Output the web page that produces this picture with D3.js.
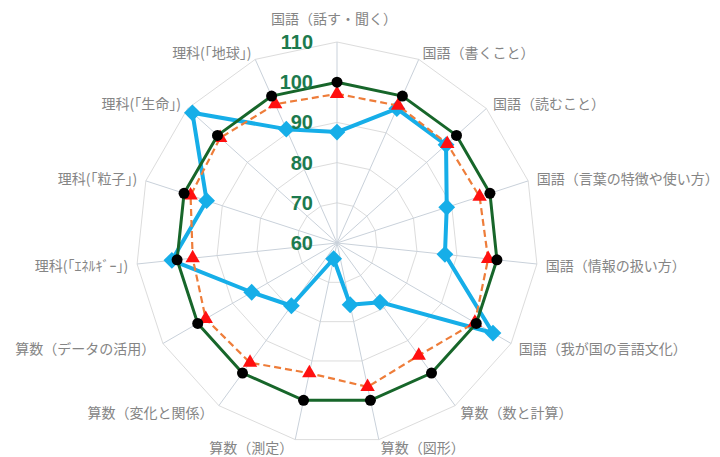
<!DOCTYPE html>
<html>
<head>
<meta charset="utf-8">
<script src="https://cdn.jsdelivr.net/npm/d3@7"></script>
<style>
  html, body { margin: 0; padding: 0; background: #ffffff; }
  svg { display: block; }
</style>
</head>
<body>
<svg id="chart" width="720" height="457"></svg>
<script>
// Subject areas, clockwise from the top
const categories = [
  "国語（話す・聞く）",
  "国語（書くこと）",
  "国語（読むこと）",
  "国語（言葉の特徴や使い方）",
  "国語（情報の扱い方）",
  "国語（我が国の言語文化）",
  "算数（数と計算）",
  "算数（図形）",
  "算数（測定）",
  "算数（変化と関係）",
  "算数（データの活用）",
  "理科(「ｴﾈﾙｷﾞｰ」)",
  "理科(「粒子」)",
  "理科(「生命」)",
  "理科(「地球」)"
];

// Reference line (national = 100)
const nationalValues = [100, 100, 100, 100, 100, 100, 100, 100, 100, 100, 100, 100, 100, 100, 100];
// Prefecture scores (dashed orange, red triangles)
const prefectureValues = [97.1, 97.4, 96.9, 97.3, 97.8, 99.6, 94.6, 96.6, 93.1, 96.8, 97.7, 96.1, 98.3, 99.1, 97.8];
// School scores (light blue, diamonds)
const schoolValues = [87.6, 96.6, 96.5, 88.7, 87.0, 104.8, 78.2, 75.7, 64.0, 79.3, 84.5, 101.3, 94.1, 108.4, 91.0];

const tickValues = [60, 70, 80, 90, 100, 110];

const cx = 337, cy = 243, R = 201;
const svg = d3.select("#chart");

const r = d3.scaleLinear().domain([60, 110]).range([0, R]);
const angle = d3.scaleLinear().domain([0, categories.length]).range([0, 2 * Math.PI]);

const g = svg.append("g").attr("transform", `translate(${cx},${cy})`);

const pt = (i, v) => [Math.sin(angle(i)) * r(v), -Math.cos(angle(i)) * r(v)];

// Grid rings
const ringLine = d3.line().curve(d3.curveLinearClosed);
g.append("g").selectAll("path")
  .data(tickValues.filter(t => t > 60))
  .join("path")
  .attr("d", t => ringLine(categories.map((_, i) => pt(i, t))))
  .attr("fill", "none")
  .attr("stroke", "#dcdcdc")
  .attr("stroke-width", 1);

// Spokes
g.append("g").selectAll("line")
  .data(categories)
  .join("line")
  .attr("x1", 0).attr("y1", 0)
  .attr("x2", (_, i) => pt(i, 110)[0])
  .attr("y2", (_, i) => pt(i, 110)[1])
  .attr("stroke", "#c9d1da")
  .attr("stroke-width", 1);

// Category labels
g.append("g").selectAll("text")
  .data(categories)
  .join("text")
  .each(function (d, i) {
    const a = angle(i);
    const s = Math.sin(a), c = Math.cos(a);
    const sel = d3.select(this);
    if (i === 0) {
      sel.attr("x", -3).attr("y", -R - 24).attr("text-anchor", "middle");
    } else {
      sel.attr("x", s * (R + 9))
         .attr("y", -c * (R + 8))
         .attr("text-anchor", s > 0 ? "start" : "end");
    }
  })
  .attr("dominant-baseline", "central")
  .attr("font-family", "'Noto Sans CJK JP', 'Noto Sans', sans-serif")
  .attr("font-size", 14)
  .attr("fill", "#858585")
  .text(d => d);

// Series
const line = d3.line().curve(d3.curveLinearClosed);

// School (light blue)
g.append("path")
  .attr("d", line(schoolValues.map((v, i) => pt(i, v))))
  .attr("fill", "none")
  .attr("stroke", "#16aee8")
  .attr("stroke-width", 4)
  .attr("stroke-linejoin", "round");
g.append("g").selectAll("path")
  .data(schoolValues)
  .join("path")
  .attr("d", d3.symbol(d3.symbolDiamond2, 180)())
  .attr("transform", (v, i) => `translate(${pt(i, v)})`)
  .attr("fill", "#16aee8");

// Prefecture (orange dashed)
g.append("path")
  .attr("d", line(prefectureValues.map((v, i) => pt(i, v))))
  .attr("fill", "none")
  .attr("stroke", "#ee7d3a")
  .attr("stroke-width", 2.2)
  .attr("stroke-dasharray", "7,4");
g.append("g").selectAll("path")
  .data(prefectureValues)
  .join("path")
  .attr("d", d3.symbol(d3.symbolTriangle, 90)())
  .attr("transform", (v, i) => `translate(${pt(i, v)})`)
  .attr("fill", "#ff1010");

// National (dark green)
g.append("path")
  .attr("d", line(nationalValues.map((v, i) => pt(i, v))))
  .attr("fill", "none")
  .attr("stroke", "#17662a")
  .attr("stroke-width", 3);
g.append("g").selectAll("circle")
  .data(nationalValues)
  .join("circle")
  .attr("cx", (v, i) => pt(i, v)[0])
  .attr("cy", (v, i) => pt(i, v)[1])
  .attr("r", 5.5)
  .attr("fill", "#000000");

// Radial tick labels
g.append("g").selectAll("text")
  .data(tickValues)
  .join("text")
  .attr("x", -24)
  .attr("y", t => -r(t))
  .attr("text-anchor", "end")
  .attr("dominant-baseline", "central")
  .attr("font-family", "'Liberation Sans', Arial, sans-serif")
  .attr("font-weight", "bold")
  .attr("font-size", 20)
  .attr("fill", "#1c7a4e")
  .text(t => t);
</script>
</body>
</html>
